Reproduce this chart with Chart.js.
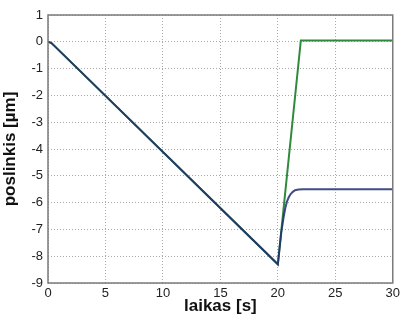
<!DOCTYPE html>
<html>
<head>
<meta charset="utf-8">
<script src="https://cdn.jsdelivr.net/npm/chart.js@4/dist/chart.umd.min.js"></script>
<style>
  body { margin: 0; background: #fff; }
  #wrap { width: 403px; height: 321px; }
</style>
</head>
<body>
<div id="wrap"><canvas id="myChart"></canvas></div>
<script>
// blue curve (laikas, poslinkis)
const blueTimes = [0, 0.3, 0.6, 20, 20.3, 20.5, 20.65, 20.8, 20.95, 21.1, 21.3, 21.5, 21.8, 22.2, 30];
const blueValues = [0, -0.05, -0.17, -8.3, -7.1, -6.55, -6.2, -5.95, -5.8, -5.69, -5.6, -5.54, -5.51, -5.5, -5.5];
// green curve
const greenTimes = [0, 0.3, 0.6, 20, 22, 30];
const greenValues = [0, -0.05, -0.17, -8.3, 0.05, 0.05];

const xTicks = [0, 5, 10, 15, 20, 25, 30];
const yTicks = [1, 0, -1, -2, -3, -4, -5, -6, -7, -8, -9];

const toPoints = (xs, ys) => xs.map((x, i) => ({x: x, y: ys[i]}));

const boxPlugin = {
  id: "box",
  afterDraw(chart) {
    const a = chart.chartArea;
    const ctx = chart.ctx;
    ctx.save();
    ctx.strokeStyle = "#7a7a7a";
    ctx.lineWidth = 1.5;
    ctx.strokeRect(a.left, a.top, a.right - a.left, a.bottom - a.top);
    ctx.restore();
  }
};

new Chart("myChart", {
  type: "line",
  data: {
    datasets: [{
      // drawn on top
      data: toPoints(blueTimes, blueValues),
      borderColor: "rgba(30,45,110,0.85)",
      borderWidth: 2,
      pointRadius: 0,
      tension: 0
    }, {
      data: toPoints(greenTimes, greenValues),
      borderColor: "#2f8a3c",
      borderWidth: 2,
      pointRadius: 0,
      tension: 0
    }]
  },
  plugins: [boxPlugin],
  options: {
    responsive: true,
    maintainAspectRatio: false,
    animation: false,
    layout: { padding: { top: 15, right: 10, left: 0, bottom: 0 } },
    plugins: { legend: { display: false }, tooltip: { enabled: false } },
    scales: {
      x: {
        type: "linear",
        min: 0, max: 30,
        afterBuildTicks: s => { s.ticks = xTicks.map(v => ({value: v})); },
        afterFit: s => { s.height = 38; },
        ticks: { color: "#222", padding: 3, font: { family: "Liberation Sans", size: 13 } },
        grid: { color: "#a8a8a8", drawTicks: false, tickLength: 0 },
        border: { display: false, dash: [1, 2] },
        title: {
          display: true, text: "laikas [s]", color: "#111",
          font: { family: "Liberation Sans", size: 17, weight: "bold" },
          padding: { top: 0, bottom: 4 }
        }
      },
      y: {
        min: -9, max: 1,
        afterBuildTicks: s => { s.ticks = yTicks.map(v => ({value: v})); },
        afterFit: s => { s.width = 48; },
        ticks: { color: "#222", padding: 5, font: { family: "Liberation Sans", size: 13 } },
        grid: { color: "#a8a8a8", drawTicks: false, tickLength: 0 },
        border: { display: false, dash: [1, 2] },
        title: {
          display: true, text: "poslinkis [µm]", color: "#111",
          font: { family: "Liberation Sans", size: 17, weight: "bold" },
          padding: { top: 0, bottom: 2 }
        }
      }
    }
  }
});
</script>
</body>
</html>
